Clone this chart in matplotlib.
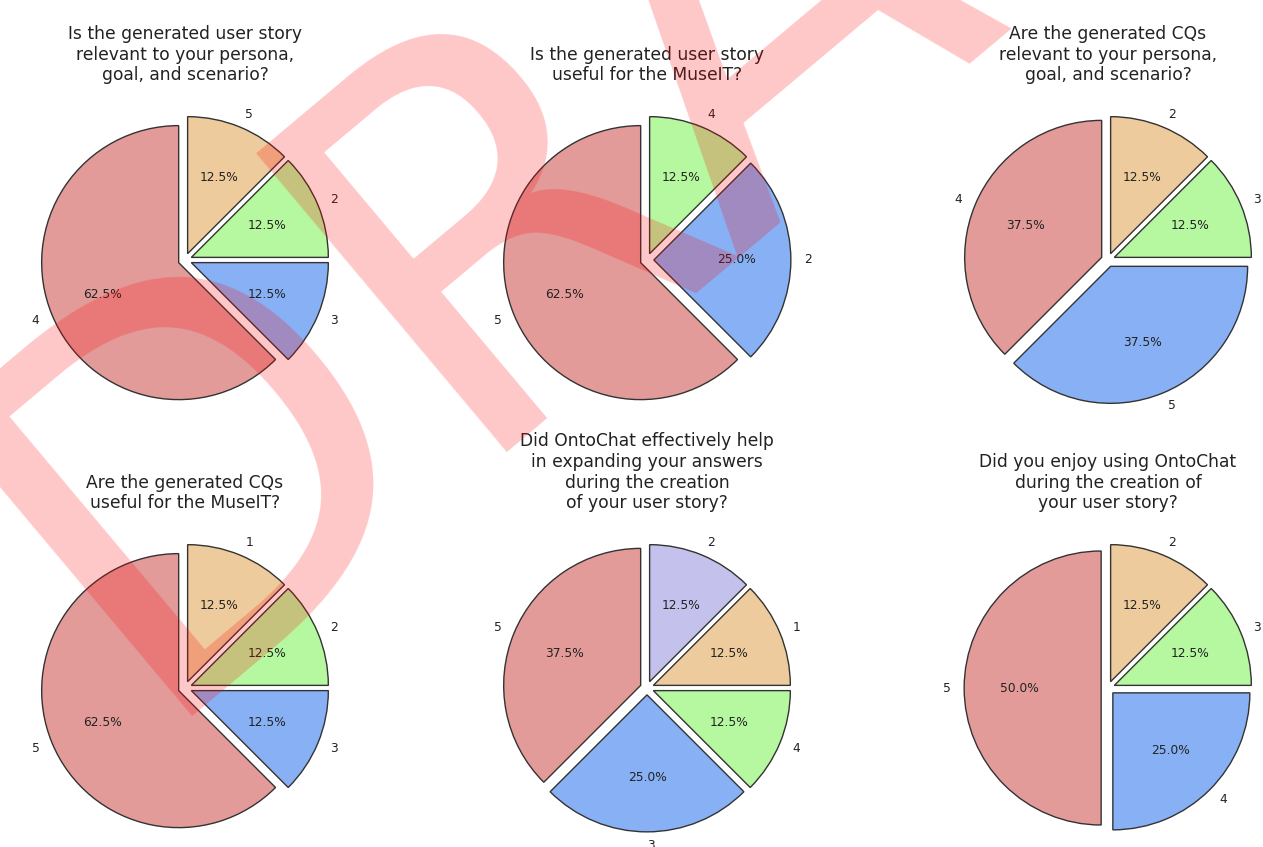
import matplotlib.pyplot as plt

# survey answers (Likert scores), counts out of 8 participants
titles = [
    'Is the generated user story\nrelevant to your persona,\ngoal, and scenario?',
    'Is the generated user story\nuseful for the MuseIT?',
    'Are the generated CQs\nrelevant to your persona,\ngoal, and scenario?',
    'Are the generated CQs\nuseful for the MuseIT?',
    'Did OntoChat effectively help\nin expanding your answers\nduring the creation\nof your user story?',
    'Did you enjoy using OntoChat\nduring the creation of\nyour user story?',
]

labels_1 = ['4', '3', '2', '5']
counts_1 = [5, 1, 1, 1]
labels_2 = ['5', '2', '4']
counts_2 = [5, 2, 1]
labels_3 = ['4', '5', '3', '2']
counts_3 = [3, 3, 1, 1]
labels_4 = ['5', '3', '2', '1']
counts_4 = [5, 1, 1, 1]
labels_5 = ['5', '3', '4', '1', '2']
counts_5 = [3, 2, 1, 1, 1]
labels_6 = ['5', '4', '3', '2']
counts_6 = [4, 2, 1, 1]

all_labels = [labels_1, labels_2, labels_3, labels_4, labels_5, labels_6]
all_counts = [counts_1, counts_2, counts_3, counts_4, counts_5, counts_6]

colors = ['#e39b99', '#88b0f5', '#b6f8a0', '#eecb9c', '#c4c1ec']

W, H = 1263, 847
fig = plt.figure(figsize=(W / 100, H / 100), dpi=100)

# pie centres and radius in pixels
cx = [185, 647, 1108]
cy = [260, 688]
R = 137
side = 2.5 * R

for i in range(6):
    row, col = divmod(i, 3)
    left = (cx[col] - side / 2) / W
    bottom = (H - cy[row] - side / 2) / H
    ax = fig.add_axes([left, bottom, side / W, side / H])
    n = len(all_counts[i])
    ax.pie(all_counts[i], labels=all_labels[i], colors=colors[:n],
           explode=[0.05] * n, startangle=90, autopct='%1.1f%%',
           wedgeprops={'edgecolor': '#333333', 'linewidth': 1},
           textprops={'fontsize': 8.8, 'color': '#222222'})
    ax.set_title(titles[i], fontsize=12.3, color='#222222')

# watermark
fig.text(140 / W, 1 - 717 / H, 'DRAFT', rotation=40, rotation_mode='anchor',
         ha='left', va='baseline', fontsize=385,
         color='red', alpha=0.22, zorder=10)

plt.savefig('out.png', dpi=100)
